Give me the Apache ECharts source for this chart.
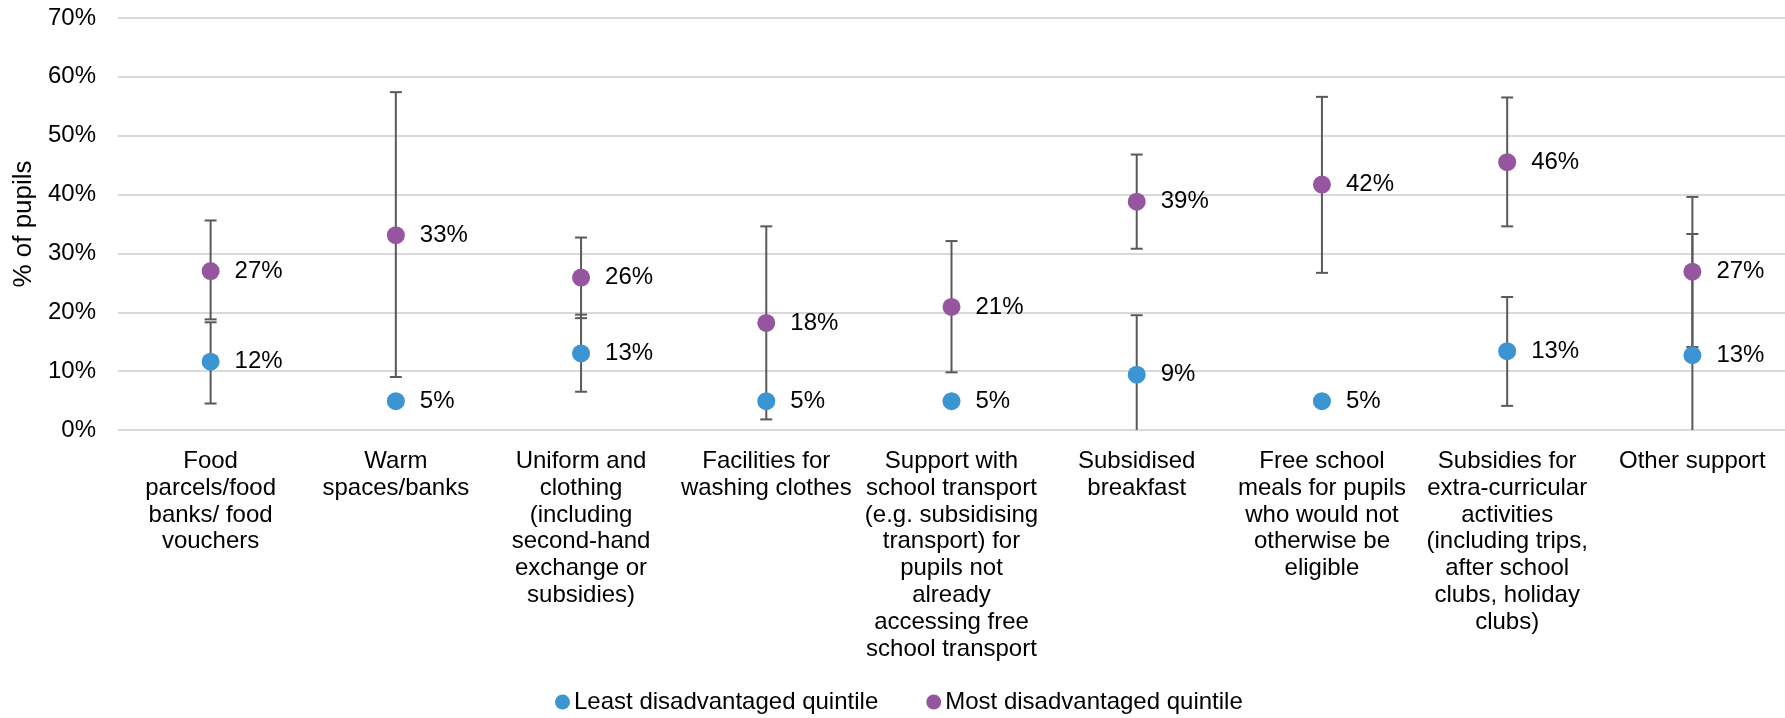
<!DOCTYPE html>
<html>
<head>
<meta charset="utf-8">
<script src="https://cdn.jsdelivr.net/npm/echarts@6/dist/echarts.min.js"></script>
<style>
html,body{margin:0;padding:0;background:#fff;}
#chart{width:1785px;height:718px;}
</style>
</head>
<body>
<div id="chart"></div>
<script>
const categories = [
  "Food\nparcels/food\nbanks/ food\nvouchers",
  "Warm\nspaces/banks",
  "Uniform and\nclothing\n(including\nsecond-hand\nexchange or\nsubsidies)",
  "Facilities for\nwashing clothes",
  "Support with\nschool transport\n(e.g. subsidising\ntransport) for\npupils not\nalready\naccessing free\nschool transport",
  "Subsidised\nbreakfast",
  "Free school\nmeals for pupils\nwho would not\notherwise be\neligible",
  "Subsidies for\nextra-curricular\nactivities\n(including trips,\nafter school\nclubs, holiday\nclubs)",
  "Other support"
];
const seriesNames = ["Least disadvantaged quintile", "Most disadvantaged quintile"];
const leastValues = [11.6, 4.9, 13.0, 4.9, 4.9, 9.4, 4.9, 13.4, 12.7];
const mostValues  = [27.0, 33.1, 25.9, 18.2, 20.9, 38.8, 41.7, 45.5, 26.9];
const leastLow  = [4.5, null, 6.5, null, null, -0.7, null, 4.1, -7.9];
const leastHigh = [18.3, null, 19.6, null, null, 19.5, null, 22.6, 33.3];
const mostLow   = [18.8, 9.0, 19.0, 1.8, 9.8, 30.8, 26.7, 34.6, 14.1];
const mostHigh  = [35.6, 57.4, 32.7, 34.6, 32.1, 46.8, 56.6, 56.5, 39.6];
const yTicks = [0, 10, 20, 30, 40, 50, 60, 70];

const colors = ["#3C95D3", "#96559F"];
const FONT = "'Liberation Sans', Arial, sans-serif";
const FS = 24;

function errData(lo, hi) {
  const out = [];
  for (let i = 0; i < lo.length; i++) {
    if (lo[i] != null && hi[i] != null) out.push([i, lo[i], hi[i]]);
  }
  return out;
}

function renderErr(params, api) {
  const x = api.value(0);
  const lo = api.coord([x, api.value(1)]);
  const hi = api.coord([x, api.value(2)]);
  const half = 6;
  const style = { stroke: "#595959", lineWidth: 2 };
  return {
    type: "group",
    children: [
      { type: "line", shape: { x1: lo[0], y1: lo[1], x2: hi[0], y2: hi[1] }, style: style },
      { type: "line", shape: { x1: lo[0] - half, y1: lo[1], x2: lo[0] + half, y2: lo[1] }, style: style },
      { type: "line", shape: { x1: hi[0] - half, y1: hi[1], x2: hi[0] + half, y2: hi[1] }, style: style }
    ]
  };
}

const chart = echarts.init(document.getElementById("chart"));
const labelCfg = {
  show: true,
  position: "right",
  distance: 15,
  color: "#000",
  fontSize: FS,
  fontFamily: FONT,
  formatter: p => Math.round(p.value) + "%"
};
chart.setOption({
  animation: false,
  color: colors,
  grid: { left: 118, right: 0, top: 18, bottom: 288, containLabel: false },
  legend: {
    bottom: 4,
    left: 555,
    padding: 0,
    data: seriesNames,
    icon: "circle",
    itemWidth: 15,
    itemHeight: 15,
    itemGap: 48,
    textStyle: { fontSize: FS, fontFamily: FONT, color: "#000", padding: [0, 0, 0, -1] }
  },
  xAxis: {
    type: "category",
    data: categories,
    boundaryGap: true,
    axisLine: { show: false },
    axisTick: { show: false },
    axisLabel: {
      interval: 0,
      margin: 18,
      fontSize: FS,
      lineHeight: 26.8,
      fontFamily: FONT,
      color: "#000",
      align: "center"
    }
  },
  yAxis: {
    type: "value",
    min: yTicks[0],
    max: yTicks[yTicks.length - 1],
    interval: 10,
    name: "% of pupils",
    nameLocation: "middle",
    nameGap: 77,
    nameTextStyle: { fontSize: 26, fontFamily: FONT, color: "#000" },
    axisLabel: { formatter: "{value}%", fontSize: FS, fontFamily: FONT, color: "#000", margin: 22 },
    splitLine: { lineStyle: { color: "#D9D9D9", width: 2 } },
    axisLine: { show: false },
    axisTick: { show: false }
  },
  series: [
    {
      type: "custom",
      name: "errLeast",
      renderItem: renderErr,
      data: errData(leastLow, leastHigh),
      clip: true,
      z: 1,
      silent: true
    },
    {
      type: "custom",
      name: "errMost",
      renderItem: renderErr,
      data: errData(mostLow, mostHigh),
      clip: true,
      z: 1,
      silent: true
    },
    {
      name: seriesNames[0],
      type: "scatter",
      data: leastValues,
      symbol: "circle",
      symbolSize: 18,
      itemStyle: { color: colors[0], opacity: 1 },
      label: labelCfg,
      z: 3
    },
    {
      name: seriesNames[1],
      type: "scatter",
      data: mostValues,
      symbol: "circle",
      symbolSize: 18,
      itemStyle: { color: colors[1], opacity: 1 },
      label: labelCfg,
      z: 3
    }
  ]
});
</script>
</body>
</html>
